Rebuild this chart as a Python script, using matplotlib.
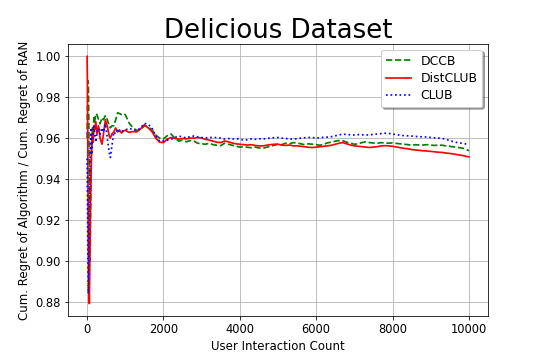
import numpy as np
import matplotlib
matplotlib.use("Agg")
import matplotlib.pyplot as plt

x_early = [1, 10, 20, 30, 40, 50, 60, 70, 80, 90, 100, 110, 120, 140, 160, 180, 200,
           230, 260, 300, 340, 390, 430, 480, 530, 580, 610, 650, 700, 750, 800, 850,
           900, 960]
x_late = list(range(1000, 10001, 100))
interactions = x_early + x_late

dccb = [
    0.960, 0.975, 0.985, 0.988, 0.980, 0.960, 0.935, 0.910, 0.900, 0.920, 0.940,
    0.950, 0.958, 0.965, 0.962, 0.970, 0.968, 0.972, 0.9715, 0.969, 0.967, 0.970,
    0.969, 0.971, 0.969, 0.966, 0.965, 0.966, 0.966, 0.969, 0.9724, 0.972, 0.9715,
    0.972,
    0.9715, 0.9675, 0.9650, 0.9638, 0.9640, 0.9660, 0.9655, 0.9640, 0.9615, 0.9600,
    0.9595, 0.9612, 0.9620, 0.9600, 0.9585, 0.9590, 0.9582, 0.9588, 0.9585, 0.9575,
    0.9572, 0.9570, 0.9575, 0.9568, 0.9565, 0.9563, 0.9575, 0.9570, 0.9565, 0.9560,
    0.9556, 0.9558, 0.9555, 0.9553, 0.9556, 0.9552, 0.9550, 0.9555, 0.9560, 0.9565,
    0.9570, 0.9568, 0.9575, 0.9572, 0.9578, 0.9576, 0.9572, 0.9568, 0.9572, 0.9570,
    0.9568, 0.9565, 0.9570, 0.9577, 0.9580, 0.9585, 0.9588, 0.9587, 0.9580, 0.9575,
    0.9570, 0.9572, 0.9578, 0.9582, 0.9578, 0.9576, 0.9574, 0.9578, 0.9576, 0.9575,
    0.9577, 0.9574, 0.9572, 0.9570, 0.9568, 0.9565, 0.9568, 0.9566, 0.9566, 0.9568,
    0.9566, 0.9564, 0.9566, 0.9565, 0.9562, 0.9560, 0.9557, 0.9555, 0.9552, 0.9548,
    0.9538,
]

distclub = [
    1.000, 0.985, 0.955, 0.925, 0.900, 0.885, 0.879, 0.893, 0.910, 0.925, 0.935,
    0.945, 0.955, 0.962, 0.958, 0.966, 0.964, 0.968, 0.962, 0.966, 0.960, 0.957,
    0.962, 0.969, 0.966, 0.961, 0.960, 0.962, 0.963, 0.965, 0.963, 0.964, 0.9625,
    0.9635,
    0.9638, 0.9628, 0.9632, 0.9630, 0.9645, 0.9665, 0.9650, 0.9632, 0.9600, 0.9580,
    0.9578, 0.9595, 0.9603, 0.9598, 0.9595, 0.9598, 0.9596, 0.9600, 0.9600, 0.9603,
    0.9600, 0.9594, 0.9590, 0.9585, 0.9580, 0.9578, 0.9586, 0.9582, 0.9576, 0.9572,
    0.9570, 0.9568, 0.9566, 0.9568, 0.9564, 0.9562, 0.9562, 0.9565, 0.9568, 0.9570,
    0.9570, 0.9566, 0.9564, 0.9566, 0.9562, 0.9562, 0.9560, 0.9558, 0.9555, 0.9554,
    0.9556, 0.9558, 0.9560, 0.9562, 0.9565, 0.9570, 0.9575, 0.9578, 0.9572, 0.9566,
    0.9562, 0.9560, 0.9558, 0.9556, 0.9554, 0.9556, 0.9558, 0.9562, 0.9563, 0.9562,
    0.9560, 0.9557, 0.9553, 0.9550, 0.9548, 0.9544, 0.9542, 0.9540, 0.9538, 0.9537,
    0.9535, 0.9533, 0.9531, 0.9530, 0.9527, 0.9525, 0.9522, 0.9519, 0.9516, 0.9512,
    0.9508,
]

club = [
    0.950, 0.930, 0.905, 0.884, 0.890, 0.905, 0.920, 0.935, 0.950, 0.960, 0.965,
    0.958, 0.952, 0.960, 0.964, 0.966, 0.962, 0.958, 0.963, 0.965, 0.962, 0.965,
    0.963, 0.967, 0.960, 0.953, 0.9505, 0.956, 0.963, 0.962, 0.9645, 0.963, 0.9635,
    0.9635,
    0.9640, 0.9648, 0.9642, 0.9636, 0.9650, 0.9672, 0.9668, 0.9650, 0.9610, 0.9585,
    0.9586, 0.9590, 0.9594, 0.9603, 0.9610, 0.9606, 0.9600, 0.9608, 0.9610, 0.9605,
    0.9603, 0.9600, 0.9604, 0.9602, 0.9603, 0.9600, 0.9596, 0.9598, 0.9595, 0.9597,
    0.9595, 0.9590, 0.9592, 0.9596, 0.9594, 0.9597, 0.9595, 0.9598, 0.9600, 0.9602,
    0.9603, 0.9600, 0.9598, 0.9596, 0.9595, 0.9597, 0.9600, 0.9602, 0.9603, 0.9603,
    0.9600, 0.9602, 0.9604, 0.9605, 0.9607, 0.9611, 0.9616, 0.9619, 0.9618, 0.9616,
    0.9615, 0.9617, 0.9616, 0.9615, 0.9616, 0.9618, 0.9620, 0.9622, 0.9624, 0.9623,
    0.9620, 0.9617, 0.9614, 0.9612, 0.9611, 0.9610, 0.9608, 0.9607, 0.9606, 0.9605,
    0.9603, 0.9601, 0.9600, 0.9598, 0.9594, 0.9588, 0.9582, 0.9578, 0.9575, 0.9572,
    0.9570,
]

fig = plt.figure(figsize=(541 / 72, 361 / 72), dpi=72)
ax = fig.add_axes([68 / 541, 45 / 361, 420 / 541, 272 / 361])

lw = 1.7
ax.plot(interactions, dccb, color="green", linestyle="--", linewidth=lw, label="DCCB")
ax.plot(interactions, distclub, color="red", linestyle="-", linewidth=lw, label="DistCLUB")
ax.plot(interactions, club, color="blue", linestyle=":", linewidth=lw, label="CLUB")

ax.set_title("Delicious Dataset", fontsize=26)
ax.set_xlabel("User Interaction Count", fontsize=11.8)
ax.set_ylabel("Cum. Regret of Algorithm / Cum. Regret of RAN", fontsize=11.8)
ax.tick_params(labelsize=11.5)
ax.set_xticks([0, 2000, 4000, 6000, 8000, 10000])
ax.set_yticks([0.88, 0.90, 0.92, 0.94, 0.96, 0.98, 1.00])
ax.grid(True)
ax.legend(loc="upper right", fontsize=12.4, shadow=True, fancybox=True,
          borderaxespad=0.45, labelspacing=0.35)

fig.savefig("out.png", dpi=72)
